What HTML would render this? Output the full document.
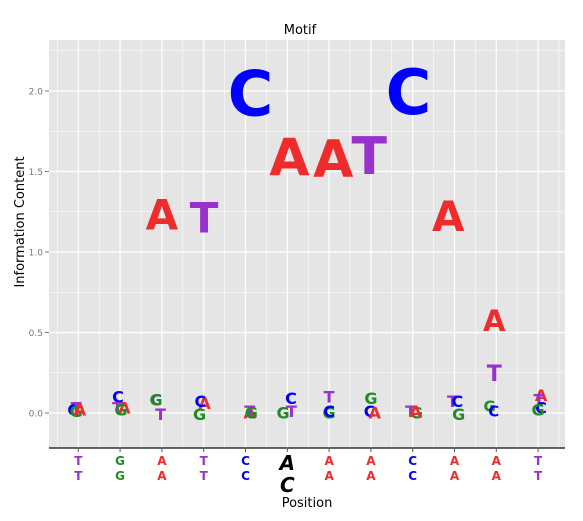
<!DOCTYPE html>
<html><head><meta charset="utf-8"><style>
html,body{margin:0;padding:0;background:#fff;width:583px;height:521px;overflow:hidden}
text{font-family:"DejaVu Sans","Liberation Sans",sans-serif}
</style></head><body>
<svg id="chart" width="583" height="521" xmlns="http://www.w3.org/2000/svg">
<rect x="49" y="40" width="516" height="408" fill="#e5e5e5"/>
<g id="grid"></g>
<g id="glyphs"></g>
<line x1="49" y1="448" x2="565" y2="448" stroke="#333" stroke-width="1.5"/>
<g id="yticks"></g>
<g id="xlabels"></g>
<text x="300" y="34" text-anchor="middle" font-size="13" font-family="Liberation Sans,sans-serif">Motif</text>
<text x="307" y="507" text-anchor="middle" font-size="13" font-family="Liberation Sans,sans-serif">Position</text>
<text transform="translate(24,222) rotate(-90)" text-anchor="middle" font-size="13" font-family="Liberation Sans,sans-serif">Information Content</text>
</svg>
<script>
const yTicks=[0.0,0.5,1.0,1.5,2.0];
const tickLabels=["0.0","0.5","1.0","1.5","2.0"];
const positions=[1,2,3,4,5,6,7,8,9,10,11,12];
const glyphPos=[0.88,0.95,0.95,1.04, 0.95,0.94,1.1,1.02, 0.86,0.86,0.97,1.0, 1.02,0.92,0.9,1.01, 1.1,1.1,1.14,1.12, 0.9,1.1,1.09,1.05, 1.0,1.0,1.0,1.1, 1.0,0.97,1.09,0.96, 0.95,1.09,1.07,0.9, 0.95,1.07,1.1,0.85, 0.84,0.94,0.95,0.95, 1.07,1.02,1.07,1.0];
const glyphLetters=["C","T","G","A", "C","T","A","G", "C","G","T","A", "A","C","G","T", "A","T","G","C", "G","T","C","A", "T","G","C","A", "G","C","A","T", "T","G","A","C", "T","C","G","A", "G","C","T","A", "A","T","C","G"];
const glyphValues=[0.02,0.03,0.01,0.02, 0.1,0.03,0.03,0.02, 0.08,0.08,-0.01,1.23, 0.06,0.07,-0.01,1.21, 0.0,0.01,0.0,1.98, 0.0,0.01,0.09,1.58, 0.1,0.0,0.01,1.57, 0.09,0.01,0.0,1.59, 0.01,0.0,0.01,1.99, 0.07,0.07,-0.01,1.22, 0.04,0.01,0.24,0.57, 0.11,0.08,0.03,0.02];
const glyphSizes=[16,16,16,16, 16,16,16,16, 16,16,16,42, 16,16,16,42, 16,16,16,62, 16,16,16,52, 16,16,16,52, 16,16,16,52, 16,16,16,62, 16,16,16,42, 15,15,22,29, 16,16,16,16];
const row1=["T","G","A","T","C","A","A","A","C","A","A","T"];
const row2=["T","G","A","T","C","C","A","A","C","A","A","T"];
const colors={A:"#ee2c2c",C:"#0000ff",G:"#228b22",T:"#9932cc"};
const NS="http://www.w3.org/2000/svg";
const xs=p=>78.3+(p-1)*41.8;
const ys=v=>413-v*161;
const grid=document.getElementById('grid');
function ln(x1,y1,x2,y2,w,name){const l=document.createElementNS(NS,'line');
l.setAttribute('x1',x1);l.setAttribute('y1',y1);l.setAttribute('x2',x2);l.setAttribute('y2',y2);
l.setAttribute('stroke','#fff');l.setAttribute('stroke-width',w);


grid.appendChild(l);}
for(let v=-0.25;v<=2.25;v+=0.5){ln(49,ys(v),565,ys(v),0.5,'minor-gridline-y');}
yTicks.forEach(v=>ln(49,ys(v),565,ys(v),1.2,'major-gridline-y'));
for(let p=0.5;p<=12.5;p+=1){ln(xs(p),40,xs(p),448,0.5,'minor-gridline-x');}
positions.forEach(p=>ln(xs(p),40,xs(p),448,1.2,'major-gridline-x'));
const yt=document.getElementById('yticks');
yTicks.forEach((v,i)=>{const t=document.createElementNS(NS,'text');
t.setAttribute('x',43);t.setAttribute('y',ys(v)+3.5);t.setAttribute('text-anchor','end');
t.setAttribute('font-size','9');t.setAttribute('fill','#777');t.setAttribute('font-family','Liberation Sans,sans-serif');
t.textContent=tickLabels[i];


yt.appendChild(t);
const l=document.createElementNS(NS,'line');l.setAttribute('x1',45);l.setAttribute('x2',49);l.setAttribute('y1',ys(v));l.setAttribute('y2',ys(v));l.setAttribute('stroke','#777');


yt.appendChild(l);});
const gg=document.getElementById('glyphs');
glyphLetters.forEach((L,i)=>{const t=document.createElementNS(NS,'text');
t.setAttribute('x',xs(glyphPos[i]+Math.floor(i/4)));t.setAttribute('y',ys(glyphValues[i]));
t.setAttribute('text-anchor','middle');t.setAttribute('dominant-baseline','central');
t.setAttribute('font-size',glyphSizes[i]);t.setAttribute('font-weight','bold');t.setAttribute('fill',colors[L]);
t.textContent=L;


gg.appendChild(t);});
const xl=document.getElementById('xlabels');
function lab(x,y,L,sz,fill,italic,name){const t=document.createElementNS(NS,'text');
t.setAttribute('x',x);t.setAttribute('y',y);t.setAttribute('text-anchor','middle');t.setAttribute('font-size',sz);
t.setAttribute('font-weight','bold');t.setAttribute('fill',fill);t.setAttribute('font-family','Liberation Sans,sans-serif');
if(italic)t.setAttribute('font-style','italic');
t.textContent=L;


xl.appendChild(t);}
positions.forEach((p,i)=>{
 const l=document.createElementNS(NS,'line');l.setAttribute('x1',xs(p));l.setAttribute('x2',xs(p));l.setAttribute('y1',448);l.setAttribute('y2',452);l.setAttribute('stroke','#555');
 
 
 xl.appendChild(l);
 if(p===6){lab(xs(p),470,row1[i],20,'#000',true,'x-label-consensus');lab(xs(p),492,row2[i],20,'#000',true,'x-label-consensus');}
 else{lab(xs(p),465,row1[i],12,colors[row1[i]],false,'x-label-consensus');lab(xs(p),480,row2[i],12,colors[row2[i]],false,'x-label-consensus');}
});
</script>
</body></html>
